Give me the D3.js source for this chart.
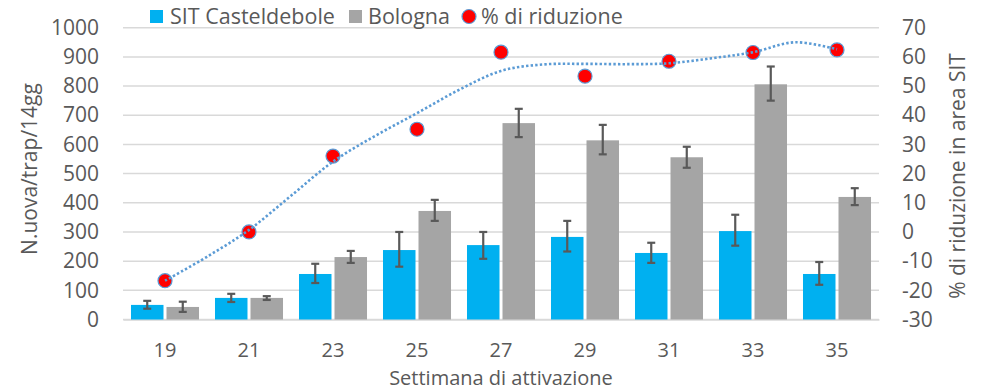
<!DOCTYPE html>
<html>
<head>
<meta charset="utf-8">
<script src="https://cdn.jsdelivr.net/npm/d3@7"></script>
<style>
  body { margin: 0; background: #fff; }
  text { font-family: "Open Sans", sans-serif; fill: #595959; }
</style>
</head>
<body>
<div id="chart"></div>
<script>
// weeks of activation
var weeks = ["19", "21", "23", "25", "27", "29", "31", "33", "35"];

// eggs / trap / 14 days
var sitMean = [50, 74, 156, 238, 255, 283, 228, 303, 156];
var sitLow  = [37, 60, 125, 181, 208, 233, 194, 253, 119];
var sitHigh = [64, 88, 191, 300, 300, 338, 263, 359, 197];

var bolMean = [43, 74, 214, 372, 673, 614, 556, 806, 420];
var bolLow  = [26, 67, 194, 338, 625, 566, 520, 750, 392];
var bolHigh = [61, 80, 235, 410, 722, 667, 592, 867, 450];

// % reduction in SIT area
var reduction = [-16.7, 0, 26, 35.2, 61.6, 53.4, 58.5, 61.5, 62.4];

// trendline, at half-steps between categories (0 = week 19)
var trendPos = [0, 0.5, 1, 1.5, 2, 2.5, 3, 3.5, 4, 4.5, 5, 5.5, 6, 6.5, 7, 7.5, 8];
var trendVal = [-16.7, -8.5, 0.7, 12.4, 24.1, 32.9, 40.7, 48.7, 55.2, 57.4, 57.6, 57.5, 57.8, 59.5, 61.6, 65.0, 62.6];

var leftTicks = [0, 100, 200, 300, 400, 500, 600, 700, 800, 900, 1000];
var rightTicks = [-30, -20, -10, 0, 10, 20, 30, 40, 50, 60, 70];

var W = 1004, H = 392,
    m = {top: 27.7, right: 125, bottom: 72.5, left: 123},
    blue = "#00b0f0", grey = "#a5a5a5", errCol = "#595959",
    fs = "21px";

var svg = d3.select("#chart").append("svg")
    .attr("width", W).attr("height", H);

var x = d3.scaleBand().domain(weeks).range([m.left, W - m.right]);
var xs = d3.scaleBand().domain(["sit", "bol"]).range([0, x.bandwidth()])
    .paddingInner(0.085).paddingOuter(0.225);
var y = d3.scaleLinear().domain([0, 1000]).range([H - m.bottom, m.top]);
var y2 = d3.scaleLinear().domain([-30, 70]).range([H - m.bottom, m.top]);
var xt = d3.scaleLinear().domain([0, weeks.length - 1])
    .range([x(weeks[0]) + x.bandwidth() / 2, x(weeks[weeks.length - 1]) + x.bandwidth() / 2]);

// gridlines
svg.append("g").selectAll("line").data(leftTicks).join("line")
    .attr("x1", m.left).attr("x2", W - m.right)
    .attr("y1", d => y(d)).attr("y2", d => y(d))
    .attr("stroke", "#d9d9d9").attr("stroke-width", 1.5);

// left axis
var gl = svg.append("g").attr("transform", "translate(" + m.left + ",0)")
    .call(d3.axisLeft(y).tickValues(leftTicks).tickFormat(d => String(d)).tickSize(0).tickPadding(24));
gl.select(".domain").remove();
gl.selectAll("text").style("font-size", fs).attr("fill", "#595959");

// right axis
var gr = svg.append("g").attr("transform", "translate(" + (W - m.right) + ",0)")
    .call(d3.axisRight(y2).tickValues(rightTicks).tickFormat(d => String(d)).tickSize(0).tickPadding(23));
gr.select(".domain").remove();
gr.selectAll("text").style("font-size", fs).attr("fill", "#595959");

// bottom axis
var gb = svg.append("g").attr("transform", "translate(0," + (H - m.bottom) + ")")
    .call(d3.axisBottom(x).tickSize(0).tickPadding(23));
gb.select(".domain").attr("stroke", "#d9d9d9").attr("stroke-width", 1.5);
gb.selectAll("text").style("font-size", "20px").attr("fill", "#595959");

// bars
var series = [
  {key: "sit", mean: sitMean, lo: sitLow, hi: sitHigh, color: blue},
  {key: "bol", mean: bolMean, lo: bolLow, hi: bolHigh, color: grey}
];

series.forEach(function(s) {
  var g = svg.append("g");
  g.selectAll("rect").data(weeks).join("rect")
      .attr("x", (d) => x(d) + xs(s.key))
      .attr("width", xs.bandwidth())
      .attr("y", (d, i) => y(s.mean[i]))
      .attr("height", (d, i) => y(0) - y(s.mean[i]))
      .attr("fill", s.color);

  var cx = d => x(d) + xs(s.key) + xs.bandwidth() / 2;
  var eb = svg.append("g").attr("stroke", errCol).attr("stroke-width", 2.2);
  eb.selectAll(".v").data(weeks).join("line")
      .attr("x1", cx).attr("x2", cx)
      .attr("y1", (d, i) => y(s.lo[i])).attr("y2", (d, i) => y(s.hi[i]));
  eb.selectAll(".t").data(weeks).join("line")
      .attr("x1", d => cx(d) - 4).attr("x2", d => cx(d) + 4)
      .attr("y1", (d, i) => y(s.hi[i])).attr("y2", (d, i) => y(s.hi[i]));
  eb.selectAll(".b").data(weeks).join("line")
      .attr("x1", d => cx(d) - 4).attr("x2", d => cx(d) + 4)
      .attr("y1", (d, i) => y(s.lo[i])).attr("y2", (d, i) => y(s.lo[i]));
});

// reduction points
svg.append("g").selectAll("circle").data(weeks).join("circle")
    .attr("cx", d => x(d) + x.bandwidth() / 2)
    .attr("cy", (d, i) => y2(reduction[i]))
    .attr("r", 7)
    .attr("fill", "#ff0000")
    .attr("stroke", "#5b9bd5").attr("stroke-width", 1.2);

// trendline
var line = d3.line()
    .x((d, i) => xt(trendPos[i]))
    .y(d => y2(d))
    .curve(d3.curveCatmullRom);
svg.append("path")
    .attr("d", line(trendVal))
    .attr("fill", "none")
    .attr("stroke", "#5b9bd5")
    .attr("stroke-width", 2.6)
    .attr("stroke-dasharray", "2.4 2.2");

// axis titles
svg.append("text")
    .attr("transform", "translate(37," + 169 + ") rotate(-90)")
    .attr("text-anchor", "middle")
    .style("font-size", fs)
    .text("N.uova/trap/14gg");

svg.append("text")
    .attr("transform", "translate(965," + 176 + ") rotate(-90)")
    .attr("text-anchor", "middle")
    .style("font-size", fs)
    .text("% di riduzione in area SIT");

svg.append("text")
    .attr("x", (m.left + W - m.right) / 2).attr("y", 385)
    .attr("text-anchor", "middle")
    .style("font-size", "20px")
    .text("Settimana di attivazione");

// legend
var lg = svg.append("g");
lg.append("rect").attr("x", 150).attr("y", 10).attr("width", 13).attr("height", 13).attr("fill", blue);
lg.append("text").attr("x", 170).attr("y", 24).style("font-size", "21.5px").text("SIT Casteldebole");
lg.append("rect").attr("x", 349).attr("y", 10).attr("width", 13).attr("height", 13).attr("fill", grey);
lg.append("text").attr("x", 368).attr("y", 24).style("font-size", "21.5px").text("Bologna");
lg.append("circle").attr("cx", 469).attr("cy", 16.5).attr("r", 7)
    .attr("fill", "#ff0000").attr("stroke", "#5b9bd5").attr("stroke-width", 1.2);
lg.append("text").attr("x", 481).attr("y", 24).style("font-size", "21.5px").text("% di riduzione");
</script>
</body>
</html>
